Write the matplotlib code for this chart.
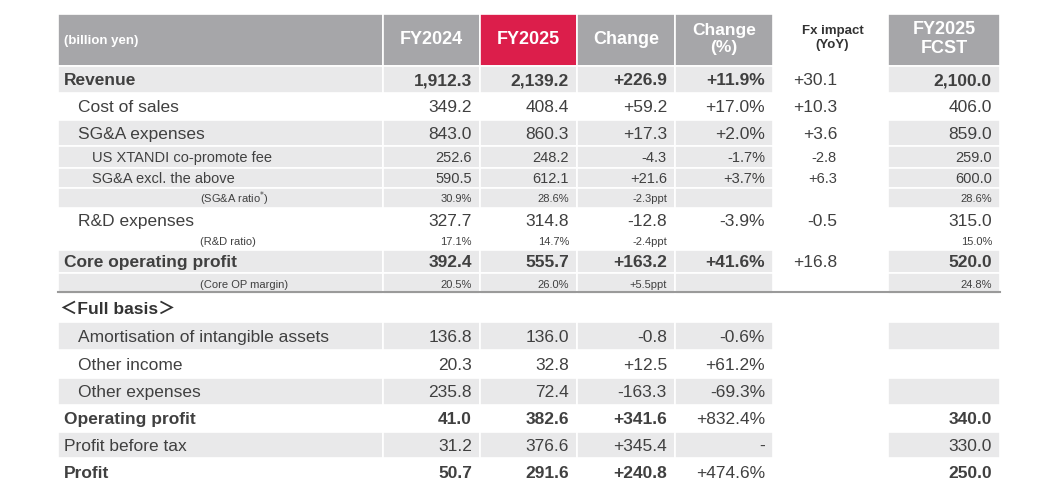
import matplotlib
matplotlib.use("Agg")
import matplotlib.pyplot as plt
from matplotlib.patches import Rectangle

plt.rcParams['font.family'] = ['Liberation Sans', 'Noto Sans CJK JP', 'DejaVu Sans']

# ── Data ──────────────────────────────────────────────────────────────
headers = ['(billion yen)', 'FY2024', 'FY2025', 'Change', 'Change\n(%)',
           'Fx impact\n(YoY)', 'FY2025\nFCST']

row_labels = ['Revenue', 'Cost of sales', 'SG&A expenses',
              'US XTANDI co-promote fee', 'SG&A excl. the above',
              '(SG&A ratio$^{*}$)', 'R&D expenses', '(R&D ratio)',
              'Core operating profit', '(Core OP margin)', '＜Full basis＞',
              'Amortisation of intangible assets', 'Other income',
              'Other expenses', 'Operating profit', 'Profit before tax',
              'Profit']
fy2024 = ['1,912.3', '349.2', '843.0', '252.6', '590.5', '30.9%', '327.7',
          '17.1%', '392.4', '20.5%', '', '136.8', '20.3', '235.8', '41.0',
          '31.2', '50.7']
fy2025 = ['2,139.2', '408.4', '860.3', '248.2', '612.1', '28.6%', '314.8',
          '14.7%', '555.7', '26.0%', '', '136.0', '32.8', '72.4', '382.6',
          '376.6', '291.6']
change = ['+226.9', '+59.2', '+17.3', '-4.3', '+21.6', '-2.3ppt', '-12.8',
          '-2.4ppt', '+163.2', '+5.5ppt', '', '-0.8', '+12.5', '-163.3',
          '+341.6', '+345.4', '+240.8']
change_pct = ['+11.9%', '+17.0%', '+2.0%', '-1.7%', '+3.7%', '', '-3.9%', '',
              '+41.6%', '', '', '-0.6%', '+61.2%', '-69.3%', '+832.4%', '-',
              '+474.6%']
fx_impact = ['+30.1', '+10.3', '+3.6', '-2.8', '+6.3', '', '-0.5', '',
             '+16.8', '', '', '', '', '', '', '', '']
fcst = ['2,100.0', '406.0', '859.0', '259.0', '600.0', '28.6%', '315.0',
        '15.0%', '520.0', '24.8%', '', '', '', '', '340.0', '330.0', '250.0']

# row style: kind, shaded
row_kind = ['bold', 'main', 'main', 'sub', 'sub', 'ratio', 'main', 'ratio',
            'bold', 'ratio', 'section', 'main', 'main', 'main', 'bold',
            'plain', 'bold']
row_shaded = [1, 0, 1, 1, 1, 1, 0, 0, 1, 1, 0, 1, 0, 1, 0, 1, 0]
row_top = [66, 93, 120, 146, 168, 188, 208, 232, 250, 273, 294, 322, 350,
           378, 405, 432, 458]
row_bot = row_top[1:] + [486]

# ── Layout (pixels) ───────────────────────────────────────────────────
col_edges = [58, 383, 480, 577, 675, 773, 888, 1000]
GRAY = '#e9e9ea'
HEAD = '#a6a6a9'
RED = '#dc1e4b'
TXT = '#404040'

fig = plt.figure(figsize=(10.57, 4.94), dpi=100)
ax = fig.add_axes([0, 0, 1, 1])
ax.set_xlim(0, 1057)
ax.set_ylim(494, 0)
ax.axis('off')

# header
for c in range(7):
    x0, x1 = col_edges[c], col_edges[c + 1]
    if c == 5:
        ax.text((x0 + x1) / 2 + 2, 38, headers[c], ha='center', va='center',
                fontsize=9.5, fontweight='bold', color='#333333',
                linespacing=1.3)
        continue
    face = RED if c == 2 else HEAD
    ax.add_patch(Rectangle((x0, 14), x1 - x0, 52, facecolor=face,
                           edgecolor='white', lw=1.2))
    if c == 0:
        ax.text(x0 + 6, 41, headers[c], ha='left', va='center', fontsize=9.5,
                fontweight='bold', color='white')
    else:
        fs = 13 if c in (1, 2, 3, 6) else 12.5
        ax.text((x0 + x1) / 2, 39, headers[c], ha='center', va='center',
                fontsize=fs, fontweight='bold', color='white',
                linespacing=1.15)

# rows
cols_vals = [fy2024, fy2025, change, change_pct, fx_impact, fcst]
for i, label in enumerate(row_labels):
    y0, y1 = row_top[i], row_bot[i]
    yc = (y0 + y1) / 2 + 1
    kind = row_kind[i]
    if row_shaded[i]:
        for c in (0, 1, 2, 3, 4, 6):
            ax.add_patch(Rectangle((col_edges[c], y0),
                                   col_edges[c + 1] - col_edges[c], y1 - y0,
                                   facecolor=GRAY, edgecolor='white', lw=1.2))

    if kind == 'bold':
        fs, fw, lx = 12.5, 'bold', 64
    elif kind == 'main':
        fs, fw, lx = 12.5, 'normal', 78
    elif kind == 'plain':
        fs, fw, lx = 12.5, 'normal', 64
    elif kind == 'sub':
        fs, fw, lx = 10.5, 'normal', 92
    elif kind == 'ratio':
        fs, fw, lx = 8, 'normal', 200
    else:
        fs, fw, lx = 12.5, 'bold', 60
    ax.text(lx, yc, label, ha='left', va='center', fontsize=fs,
            fontweight=fw, color=TXT if kind != 'section' else '#333333')

    for c, vals in enumerate(cols_vals):
        v = vals[i]
        if not v:
            continue
        col = c + 1
        xr = col_edges[col + 1] - 8
        if col == 5:
            xr = 837
        bold = fw == 'bold' and col != 5
        if kind == 'bold' and col == 4 and i >= 14:
            bold = False
        ax.text(xr, yc, v, ha='right', va='center', fontsize=fs,
                fontweight='bold' if bold else 'normal', color=TXT)

# separator under core OP margin
ax.plot([58, 1000], [292, 292], color='#9a9a9a', lw=1.5)

fig.savefig('out.png', dpi=100, facecolor='white')
